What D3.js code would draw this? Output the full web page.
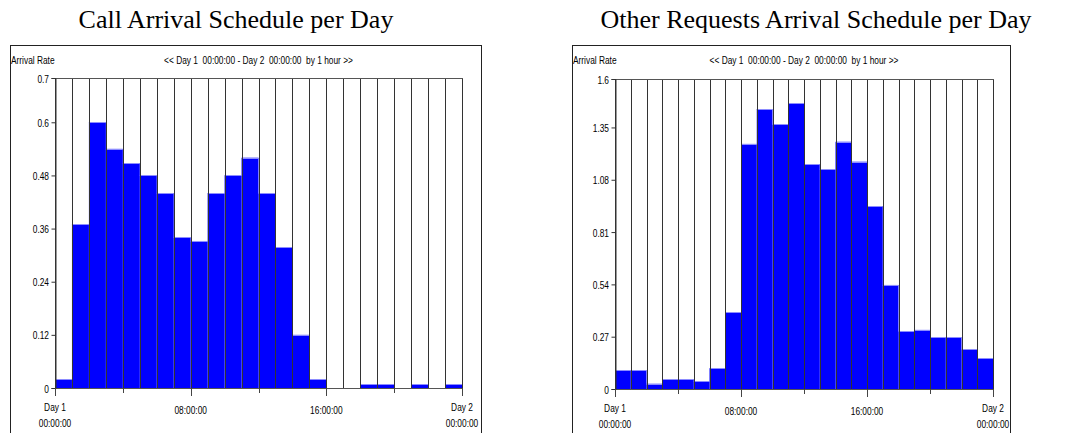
<!DOCTYPE html>
<html>
<head>
<meta charset="utf-8">
<script src="https://cdn.jsdelivr.net/npm/d3@7"></script>
<style>
  html, body { margin: 0; padding: 0; background: #fff; }
  svg { display: block; }
  .small { font-family: "Liberation Sans", Arial, sans-serif; font-size: 11px; fill: #000; white-space: pre; }
  .title { font-family: "Liberation Serif", "Times New Roman", serif; font-size: 26px; fill: #000; }
</style>
</head>
<body>
<svg id="chart" width="1081" height="433"></svg>
<script>
// ---- data ----
const hours = ["00","01","02","03","04","05","06","07","08","09","10","11","12","13","14","15","16","17","18","19","20","21","22","23"];
const callRates = [0.02, 0.37, 0.6, 0.54, 0.508, 0.48, 0.44, 0.34, 0.332, 0.44, 0.48, 0.52, 0.44, 0.318, 0.12, 0.02, 0, 0, 0.008, 0.008, 0, 0.008, 0, 0.008];
const otherRates = [0.097, 0.097, 0.027, 0.05, 0.05, 0.04, 0.107, 0.397, 1.265, 1.444, 1.366, 1.475, 1.161, 1.135, 1.276, 1.173, 0.944, 0.537, 0.299, 0.305, 0.267, 0.267, 0.205, 0.158];
const callTicks = [0, 0.12, 0.24, 0.36, 0.48, 0.6, 0.7];
const callTickLabels = ["0", "0.12", "0.24", "0.36", "0.48", "0.6", "0.7"];
const otherTicks = [0, 0.27, 0.54, 0.81, 1.08, 1.35, 1.6];
const otherTickLabels = ["0", "0.27", "0.54", "0.81", "1.08", "1.35", "1.6"];
const xTickHours = [0, 4, 8, 12, 16, 20, 24];
const xMajorHours = [0, 8, 16, 24];
const xLabels = [["Day 1", "00:00:00"], ["08:00:00"], ["16:00:00"], ["Day 2", "00:00:00"]];
const titles = ["Call Arrival Schedule per Day", "Other Requests Arrival Schedule per Day"];
const yLabel = "Arrival Rate";
const rangeLabel = "<< Day 1  00:00:00 - Day 2  00:00:00  by 1 hour >>";

const SX = 0.76; // narrow (condensed) small text
const svg = d3.select("#chart");

function smallText(g, x, y, anchor, txt) {
  return g.append("text").attr("class", "small")
    .attr("transform", `translate(${x},${y}) scale(${SX},1)`)
    .attr("text-anchor", anchor).text(txt);
}

function drawPanel(cfg) {
  const g = svg.append("g");
  const x = d3.scaleLinear().domain([0, 24]).range([cfg.left, cfg.right]);
  const y = d3.scaleLinear().domain([0, cfg.max]).range([cfg.bottom, cfg.top]);

  // title
  g.append("text").attr("class", "title")
    .attr("x", cfg.titleX).attr("y", 28)
    .attr("text-anchor", "middle")
    .text(cfg.title);

  // frame
  g.append("rect")
    .attr("x", cfg.frameL + 0.5).attr("y", 45.5)
    .attr("width", cfg.frameR - cfg.frameL).attr("height", 420)
    .attr("fill", "none").attr("stroke", "#222").attr("stroke-width", 1);

  smallText(g, cfg.frameL + 1, 64, "start", yLabel);
  smallText(g, (cfg.left + cfg.right) / 2, 64, "middle", rangeLabel);

  // column backgrounds
  g.selectAll("rect.col").data(cfg.values).join("rect").attr("class", "col")
    .attr("x", (d, i) => x(i)).attr("y", y(cfg.max))
    .attr("width", (d, i) => x(i + 1) - x(i)).attr("height", y(0) - y(cfg.max))
    .attr("fill", "#fff");

  // blue bars
  g.selectAll("rect.bar").data(cfg.values).join("rect").attr("class", "bar")
    .attr("x", (d, i) => x(i)).attr("y", d => y(d))
    .attr("width", (d, i) => x(i + 1) - x(i)).attr("height", d => y(0) - y(d))
    .attr("fill", "#0000ff");

  // bar top highlight
  g.selectAll("line.hl").data(cfg.values.map((v, i) => [v, i]).filter(d => d[0] > 0)).join("line").attr("class", "hl")
    .attr("x1", d => x(d[1])).attr("x2", d => x(d[1] + 1))
    .attr("y1", d => Math.round(y(d[0])) + 0.5).attr("y2", d => Math.round(y(d[0])) + 0.5)
    .attr("stroke", "#8c8cff").attr("stroke-width", 1);

  // column borders
  g.selectAll("line.vb").data(d3.range(25)).join("line").attr("class", "vb")
    .attr("x1", d => Math.round(x(d)) + 0.5).attr("x2", d => Math.round(x(d)) + 0.5)
    .attr("y1", y(cfg.max)).attr("y2", y(0))
    .attr("stroke", "#333").attr("stroke-width", 1);
  g.append("line")
    .attr("x1", x(0)).attr("x2", x(24) + 1)
    .attr("y1", Math.round(y(cfg.max)) + 0.5).attr("y2", Math.round(y(cfg.max)) + 0.5)
    .attr("stroke", "#555");

  // baseline
  g.append("line")
    .attr("x1", x(0)).attr("x2", x(24) + 1)
    .attr("y1", Math.round(y(0)) + 0.5).attr("y2", Math.round(y(0)) + 0.5)
    .attr("stroke", "#555");

  // y axis
  const ya = d3.axisLeft(y).tickValues(cfg.ticks).tickSize(4).tickPadding(2)
    .tickFormat((d, i) => cfg.tickLabels[i]);
  const yg = g.append("g").attr("transform", `translate(${Math.round(x(0)) + 0.5},0)`).call(ya);
  yg.attr("font-family", null).attr("font-size", null);
  yg.select(".domain").attr("stroke", "#333");
  yg.selectAll(".tick line").attr("stroke", "#333");
  yg.selectAll(".tick text").attr("class", "small").attr("fill", "#000")
    .attr("x", null).attr("dy", null)
    .attr("transform", `translate(-6.5,4) scale(${SX},1)`);

  // x ticks
  g.selectAll("line.xt").data(xTickHours).join("line").attr("class", "xt")
    .attr("x1", d => Math.round(x(d)) + 0.5).attr("x2", d => Math.round(x(d)) + 0.5)
    .attr("y1", y(0)).attr("y2", d => y(0) + (xMajorHours.includes(d) ? 8 : 5))
    .attr("stroke", "#444");

  // x labels
  xMajorHours.forEach((h, k) => {
    const lines = xLabels[k];
    lines.forEach((t, j) => {
      const yy = lines.length === 1 ? y(0) + 26 : y(0) + 23 + j * 16;
      smallText(g, x(h), yy, "middle", t);
    });
  });
}

drawPanel({
  title: titles[0], titleX: 236, frameL: 10, frameR: 481,
  left: 55, right: 462, top: 78, bottom: 388, max: 0.7,
  values: callRates, ticks: callTicks, tickLabels: callTickLabels
});
drawPanel({
  title: titles[1], titleX: 816, frameL: 572, frameR: 1010,
  left: 615, right: 993, top: 79, bottom: 389, max: 1.6,
  values: otherRates, ticks: otherTicks, tickLabels: otherTickLabels
});
</script>
</body>
</html>
